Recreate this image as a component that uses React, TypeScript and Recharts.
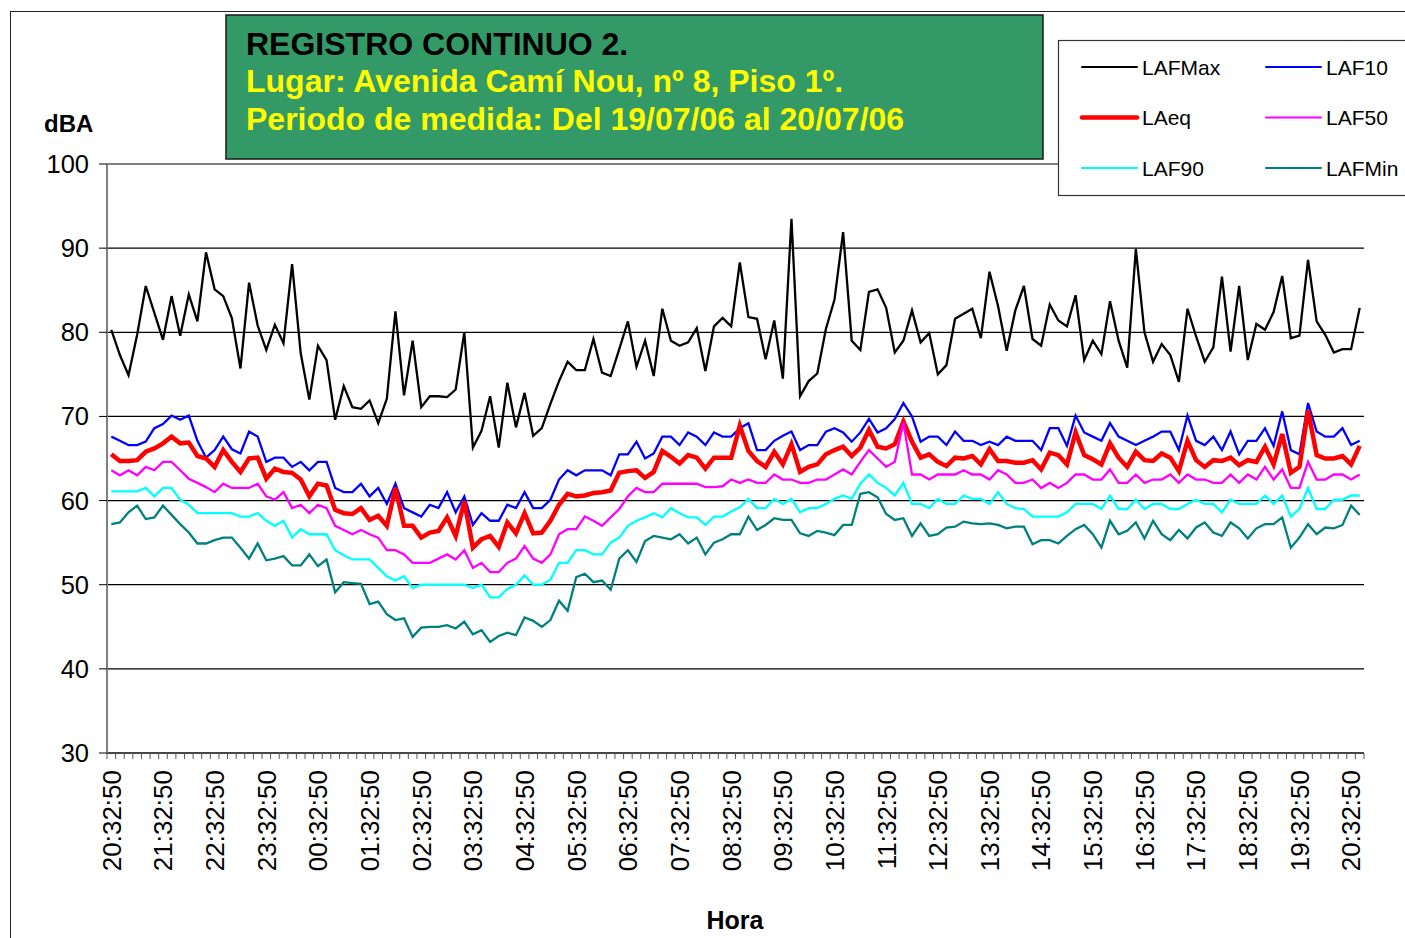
import React from 'react';
import { LineChart, Line, XAxis, YAxis, CartesianGrid } from 'recharts';

// 10-minute readings, 20:32:50 (19/07/06) -> 20:42:50 (20/07/06)
const HOUR_LABELS = [
  '20:32:50', '21:32:50', '22:32:50', '23:32:50', '00:32:50', '01:32:50', '02:32:50',
  '03:32:50', '04:32:50', '05:32:50', '06:32:50', '07:32:50', '08:32:50', '09:32:50',
  '10:32:50', '11:32:50', '12:32:50', '13:32:50', '14:32:50', '15:32:50', '16:32:50',
  '17:32:50', '18:32:50', '19:32:50', '20:32:50',
];

const Y_TICKS = [30, 40, 50, 60, 70, 80, 90, 100];

const LAFMAX = [
  80.3, 77.3, 74.9, 79.7, 85.5, 82.3, 79.1, 84.3, 79.6, 84.5, 81.3, 89.5, 85.1, 84.3, 81.7, 75.7, 85.9, 80.8, 77.9, 80.9,
  78.7, 88.1, 77.5, 72.0, 78.4, 76.7, 69.6, 73.6, 71.1, 70.9, 71.9, 69.2, 72.1, 82.5, 72.5, 79.0, 71.1, 72.4, 72.4, 72.3,
  73.2, 80.0, 66.3, 68.3, 72.4, 66.3, 74.0, 68.7, 72.8, 67.7, 68.6, 71.5, 74.2, 76.5, 75.5, 75.5, 79.2, 75.2, 74.8, 78.0,
  81.3, 75.9, 79.0, 74.8, 82.8, 79.0, 78.4, 78.8, 80.5, 75.4, 80.7, 81.7, 80.7, 88.3, 81.8, 81.6, 76.8, 81.4, 74.5, 93.5,
  72.4, 74.2, 75.1, 80.4, 83.9, 91.9, 79.0, 77.9, 84.8, 85.1, 82.9, 77.6, 79.0, 82.6, 78.8, 79.9, 75.0, 76.1, 81.6, 82.2,
  82.8, 79.3, 87.2, 83.1, 77.8, 82.6, 85.5, 79.2, 78.4, 83.3, 81.4, 80.7, 84.4, 76.7, 79.0, 77.4, 83.7, 79.0, 75.8, 89.9,
  80.0, 76.5, 78.6, 77.3, 74.1, 82.8, 79.5, 76.5, 78.2, 86.6, 77.7, 85.5, 76.7, 81.0, 80.3, 82.4, 86.7, 79.3, 79.6, 88.6,
  81.3, 79.7, 77.6, 78.0, 78.0, 82.9,
];

const LAF10 = [
  67.6, 67.1, 66.6, 66.6, 67.0, 68.6, 69.1, 70.1, 69.6, 70.1, 67.1, 65.1, 66.0, 67.6, 66.1, 65.6, 68.2, 67.6, 64.6, 65.1,
  65.1, 64.0, 64.6, 63.6, 64.6, 64.6, 61.5, 61.0, 61.0, 62.0, 60.5, 61.5, 59.6, 62.0, 59.1, 58.6, 58.1, 59.5, 59.1, 61.0,
  58.6, 60.5, 57.1, 58.5, 57.6, 57.6, 59.5, 59.1, 61.0, 59.1, 59.1, 60.1, 62.5, 63.6, 63.0, 63.6, 63.6, 63.6, 63.0, 65.5,
  65.5, 67.0, 65.0, 65.6, 67.6, 67.6, 66.6, 68.1, 67.6, 66.6, 68.1, 67.6, 67.6, 68.6, 69.2, 66.0, 66.0, 67.1, 67.7, 68.2,
  66.0, 66.6, 66.6, 68.2, 68.6, 68.1, 67.0, 68.1, 69.7, 68.1, 68.6, 69.7, 71.6, 70.0, 67.0, 67.6, 67.6, 66.6, 68.2, 67.1,
  67.1, 66.6, 67.0, 66.6, 67.6, 67.1, 67.1, 67.1, 66.0, 68.6, 68.6, 66.5, 70.1, 68.1, 67.6, 67.1, 69.2, 67.6, 67.1, 66.6,
  67.1, 67.6, 68.2, 68.2, 66.0, 70.1, 67.1, 66.6, 67.6, 66.0, 68.2, 65.5, 67.1, 67.1, 68.6, 66.5, 70.6, 66.0, 65.5, 71.6,
  68.2, 67.6, 67.6, 68.6, 66.6, 67.1,
];

const LAEQ = [
  65.5, 64.7, 64.7, 64.8, 65.8, 66.2, 66.8, 67.6, 66.8, 66.9, 65.3, 65.0, 64.0, 66.0, 64.6, 63.4, 65.0, 65.1, 62.6, 63.8,
  63.4, 63.3, 62.5, 60.5, 62.0, 61.8, 58.9, 58.5, 58.4, 59.1, 57.7, 58.2, 57.0, 61.5, 57.0, 57.0, 55.6, 56.2, 56.4, 58.0,
  55.8, 59.9, 54.4, 55.4, 55.8, 54.5, 57.4, 56.1, 58.5, 56.1, 56.2, 57.6, 59.5, 60.8, 60.5, 60.6, 60.9, 61.0, 61.2, 63.3,
  63.5, 63.6, 62.7, 63.4, 65.9, 65.2, 64.4, 65.4, 65.1, 63.8, 65.1, 65.1, 65.1, 68.9, 65.9, 64.7, 64.0, 65.8, 64.3, 66.7,
  63.4, 64.0, 64.3, 65.5, 66.0, 66.4, 65.3, 66.3, 68.4, 66.4, 66.2, 66.7, 69.4, 67.0, 65.1, 65.5, 64.6, 64.1, 65.1, 65.0,
  65.3, 64.3, 66.1, 64.7, 64.7, 64.5, 64.5, 64.8, 63.7, 65.7, 65.4, 64.3, 68.1, 65.4, 64.9, 64.3, 66.8, 65.1, 64.0, 65.8,
  64.8, 64.7, 65.6, 65.1, 63.5, 67.1, 64.8, 64.0, 64.8, 64.7, 65.1, 64.2, 64.8, 64.6, 66.4, 64.3, 67.9, 63.3, 64.0, 70.7,
  65.4, 65.0, 65.0, 65.3, 64.3, 66.5,
];

const LAF50 = [
  63.6, 63.0, 63.6, 63.0, 64.0, 63.6, 64.6, 64.6, 63.6, 62.6, 62.1, 61.6, 61.0, 62.0, 61.5, 61.5, 61.5, 62.0, 60.5, 60.1,
  61.0, 59.1, 59.5, 58.5, 59.5, 59.1, 57.0, 56.5, 56.0, 56.5, 56.0, 55.6, 54.1, 54.1, 53.6, 52.6, 52.6, 52.6, 53.1, 53.6,
  53.0, 54.1, 52.0, 52.6, 51.5, 51.5, 52.6, 53.1, 54.6, 53.1, 52.6, 53.6, 56.0, 56.6, 56.6, 58.1, 57.6, 57.0, 58.0, 59.0,
  60.5, 61.5, 61.0, 61.0, 62.0, 62.0, 62.0, 62.0, 62.0, 61.6, 61.6, 61.7, 62.5, 62.1, 62.5, 62.1, 62.1, 63.1, 62.5, 62.5,
  62.1, 62.1, 62.5, 62.5, 63.1, 63.7, 63.1, 64.6, 66.0, 65.0, 64.0, 64.6, 69.3, 63.1, 63.1, 62.5, 63.1, 63.1, 63.1, 63.6,
  63.1, 63.1, 62.5, 63.6, 63.1, 62.1, 62.1, 62.5, 61.5, 62.1, 61.5, 62.1, 63.1, 63.1, 62.5, 62.5, 63.7, 62.1, 62.1, 63.1,
  62.1, 62.5, 62.5, 63.1, 62.1, 63.1, 62.5, 62.5, 62.1, 62.1, 63.1, 62.1, 63.1, 62.5, 64.0, 62.5, 63.7, 61.5, 61.5, 64.6,
  62.5, 62.5, 63.1, 63.1, 62.5, 63.1,
];

const LAF90 = [
  61.1, 61.1, 61.1, 61.1, 61.5, 60.5, 61.5, 61.5, 60.1, 59.5, 58.5, 58.5, 58.5, 58.5, 58.5, 58.1, 58.1, 58.5, 57.6, 57.0,
  57.6, 55.6, 56.6, 56.0, 56.0, 56.0, 54.1, 53.5, 53.0, 53.0, 53.0, 52.0, 51.0, 50.5, 51.0, 49.6, 50.0, 50.0, 50.0, 50.0,
  50.0, 50.0, 49.6, 50.0, 48.5, 48.5, 49.5, 50.0, 51.1, 50.0, 50.0, 50.6, 52.6, 52.6, 54.1, 54.1, 53.6, 53.6, 55.0, 55.6,
  57.0, 57.6, 58.0, 58.5, 58.0, 59.1, 58.5, 58.0, 58.0, 57.1, 58.1, 58.1, 58.7, 59.2, 60.2, 59.1, 59.1, 60.2, 59.6, 60.2,
  58.6, 59.1, 59.1, 59.6, 60.2, 60.6, 60.2, 62.0, 63.1, 62.1, 61.5, 60.6, 62.1, 59.6, 59.6, 59.1, 60.2, 59.6, 59.6, 60.6,
  60.2, 60.2, 59.6, 61.0, 59.6, 59.1, 59.0, 58.1, 58.1, 58.1, 58.1, 58.6, 59.6, 59.6, 59.6, 59.0, 60.6, 59.0, 59.0, 60.1,
  59.0, 59.6, 59.6, 59.0, 59.0, 59.6, 60.1, 59.6, 59.6, 58.6, 60.1, 59.6, 59.6, 59.6, 60.6, 59.6, 60.6, 58.1, 59.0, 61.5,
  59.0, 59.0, 60.1, 60.1, 60.6, 60.6,
];

const LAFMIN = [
  57.2, 57.4, 58.6, 59.4, 57.8, 58.0, 59.4, 58.3, 57.2, 56.2, 54.9, 54.9, 55.3, 55.6, 55.6, 54.4, 53.1, 54.9, 52.9, 53.1,
  53.4, 52.3, 52.3, 53.6, 52.2, 53.0, 49.1, 50.3, 50.2, 50.1, 47.7, 48.0, 46.5, 45.8, 46.0, 43.8, 44.9, 45.0, 45.0, 45.2,
  44.8, 45.6, 44.1, 44.6, 43.2, 43.9, 44.3, 44.0, 46.1, 45.7, 45.0, 45.8, 48.1, 46.9, 50.9, 51.3, 50.3, 50.5, 49.4, 53.1,
  54.1, 52.7, 55.2, 55.8, 55.6, 55.4, 56.0, 54.9, 55.6, 53.6, 55.0, 55.4, 56.0, 56.0, 58.1, 56.5, 57.1, 57.9, 57.7, 57.7,
  56.1, 55.8, 56.4, 56.2, 55.9, 57.1, 57.1, 60.8, 61.0, 60.4, 58.4, 57.7, 57.9, 55.8, 57.3, 55.8, 56.0, 56.8, 56.9, 57.5,
  57.3, 57.2, 57.3, 57.1, 56.7, 56.9, 56.9, 54.8, 55.3, 55.3, 54.9, 55.8, 56.6, 57.1, 56.0, 54.4, 57.6, 56.0, 56.4, 57.4,
  55.5, 57.6, 56.0, 55.3, 56.5, 55.5, 56.8, 57.4, 56.2, 55.8, 57.4, 56.7, 55.5, 56.7, 57.2, 57.2, 58.0, 54.4, 55.6, 57.2,
  56.0, 56.8, 56.7, 57.1, 59.4, 58.3,
];

const SERIES = [
  { key: 'LAFMax', color: '#000000', width: 2.3 },
  { key: 'LAF10', color: '#0000FF', width: 2.3 },
  { key: 'LAeq', color: '#FF0000', width: 4.5 },
  { key: 'LAF50', color: '#FF00FF', width: 2.3 },
  { key: 'LAF90', color: '#00FFFF', width: 2.3 },
  { key: 'LAFMin', color: '#008080', width: 2.3 },
];

const data = LAFMAX.map((v, i) => ({
  i,
  LAFMax: v,
  LAF10: LAF10[i],
  LAeq: LAEQ[i],
  LAF50: LAF50[i],
  LAF90: LAF90[i],
  LAFMin: LAFMIN[i],
}));

const FONT = '"Liberation Sans", Arial, sans-serif';
const W = 1405;
const H = 938;
const PLOT_LEFT = 107;
const PLOT_RIGHT = 1364;
const PLOT_TOP = 164;
const PLOT_BOTTOM = 753;
const N = data.length;
const HALF_BAND = (PLOT_RIGHT - PLOT_LEFT) / N / 2;

// tick marks sit on category boundaries, labels on every 6th category
const BOUNDARY_TICKS = Array.from({ length: N + 1 }, (_, k) => k - 0.5);

function HourTick(props: any) {
  const { x, y, payload } = props;
  const idx = payload.value + 0.5;
  if (idx % 6 !== 0) return <g />;
  const cx = x + HALF_BAND;
  return (
    <text
      x={cx}
      y={y}
      transform={`rotate(-90, ${cx}, ${y})`}
      textAnchor="end"
      dy="0.36em"
      fontSize={26}
      fontFamily={FONT}
      fill="#000"
    >
      {HOUR_LABELS[idx / 6]}
    </text>
  );
}

const LEGEND_ROWS = [
  ['LAFMax', 'LAF10'],
  ['LAeq', 'LAF50'],
  ['LAF90', 'LAFMin'],
];

export default function App() {
  return (
    <div style={{ position: 'absolute', left: 0, top: 0, width: W, height: H, background: '#fff', overflow: 'hidden' }}>
      {/* outer chart frame */}
      <div style={{ position: 'absolute', left: 10, top: 11, width: W, height: H, borderTop: '1.5px solid #222', borderLeft: '1.5px solid #222' }} />

      <div style={{ position: 'absolute', left: 0, top: 0 }}>
        <LineChart
          width={W}
          height={H}
          data={data}
          margin={{ top: PLOT_TOP, right: W - PLOT_RIGHT, bottom: 0, left: 0 }}
        >
          <CartesianGrid vertical={false} stroke="#000" strokeWidth={1.2} />
          <XAxis
            dataKey="i"
            type="number"
            domain={[-0.5, N - 0.5]}
            ticks={BOUNDARY_TICKS}
            interval={0}
            height={H - PLOT_BOTTOM}
            tickSize={6}
            tickMargin={11}
            tick={<HourTick />}
            stroke="#444"
            tickLine={{ stroke: '#555' }}
            axisLine={{ stroke: '#333', strokeWidth: 1.5 }}
          />
          <YAxis
            type="number"
            domain={[30, 100]}
            ticks={Y_TICKS}
            interval={0}
            width={PLOT_LEFT}
            tickSize={8}
            tickMargin={10}
            tick={{ fontSize: 25.5, fontFamily: FONT, fill: '#000' }}
            tickLine={{ stroke: '#000' }}
            axisLine={{ stroke: '#808080', strokeWidth: 2 }}
          />
          {SERIES.map((s) => (
            <Line
              key={s.key}
              type="linear"
              dataKey={s.key}
              stroke={s.color}
              strokeWidth={s.width}
              dot={false}
              activeDot={false}
              isAnimationActive={false}
            />
          ))}
        </LineChart>
      </div>

      <svg width={W} height={H} style={{ position: 'absolute', left: 0, top: 0, pointerEvents: 'none' }}>
        {/* title box */}
        <rect x={226} y={15} width={817} height={144} fill="#339966" stroke="#1a1a1a" strokeWidth={1.5} />
        <g fontFamily={FONT} fontWeight="bold" fontSize={32}>
          <text x={246} y={55} fill="#000">REGISTRO CONTINUO 2.</text>
          <text x={246} y={92} fill="#FFFF00">Lugar: Avenida Camí Nou, nº 8, Piso 1º.</text>
          <text x={246} y={130} fill="#FFFF00">Periodo de medida: Del 19/07/06 al 20/07/06</text>
        </g>

        {/* legend */}
        <rect x={1058.5} y={40.5} width={360} height={155} fill="#fff" stroke="#333" strokeWidth={1.2} />
        {LEGEND_ROWS.map((row, r) =>
          row.map((name, c) => {
            const s = SERIES.find((d) => d.key === name)!;
            const y = 67 + r * 50.5;
            const x0 = c === 0 ? 1082 : 1266;
            return (
              <g key={name}>
                <line x1={x0} y1={y} x2={x0 + 55} y2={y} stroke={s.color} strokeWidth={s.width < 3 ? 2 : 4.5} strokeLinecap="round" />
                <text x={x0 + 60} y={y} dy="0.36em" fontFamily={FONT} fontSize={21} fill="#000">{name}</text>
              </g>
            );
          })
        )}

        {/* axis titles */}
        <text x={44} y={132} fontFamily={FONT} fontWeight="bold" fontSize={24} fill="#000">dBA</text>
        <text x={735} y={929} textAnchor="middle" fontFamily={FONT} fontWeight="bold" fontSize={25} fill="#000">Hora</text>
      </svg>
    </div>
  );
}
